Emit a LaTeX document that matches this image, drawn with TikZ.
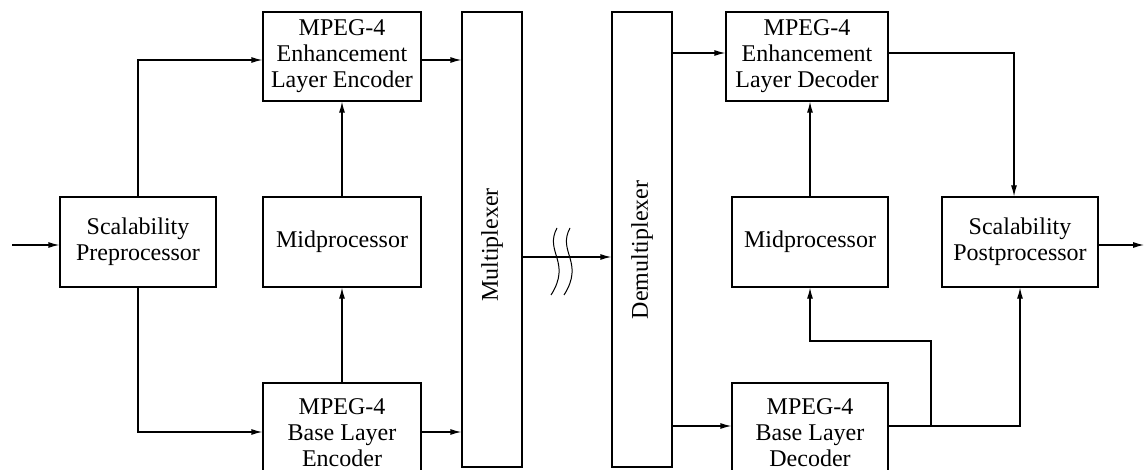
\documentclass[tikz,border=0pt]{standalone}
\usepackage{fontspec}
\setmainfont{Liberation Serif}
\usetikzlibrary{arrows.meta}
\begin{document}
\begin{tikzpicture}[x=0.5pt,y=-0.5pt,
  txt/.style={font=\fontsize{12}{13}\selectfont, align=center},
  blk/.style={txt, draw, line width=0.6pt, inner sep=0pt},
  wire/.style={line width=0.6pt},
  arr/.style={wire, -{Latex[length=5.5pt,width=3pt]}}]
\useasboundingbox (0,0) rectangle (1144,470);
\clip (0,0) rectangle (1144,470);

% encoder side
\node[blk, minimum width=78pt, minimum height=45pt] (pre) at (138,242) {Scalability\\Preprocessor};
\node[blk, minimum width=79pt, minimum height=44.5pt] (encE) at (342,56.5) {MPEG-4\\Enhancement\\Layer Encoder};
\node[blk, minimum width=79pt, minimum height=45pt] (midL) at (342,242) {Midprocessor};
\node[blk, minimum width=79pt, minimum height=50pt] (encB) at (342,433) {MPEG-4\\Base Layer\\Encoder};
\node[blk, minimum width=30pt, minimum height=227.5pt] (mux) at (492,239.5) {};
\node[txt, rotate=90] (muxT) at (492,245) {Multiplexer};

% decoder side
\node[blk, minimum width=30pt, minimum height=227.5pt] (demux) at (642,239.5) {};
\node[txt, rotate=90] (demuxT) at (642,250) {Demultiplexer};
\node[blk, minimum width=81pt, minimum height=44.5pt] (decE) at (807,56.5) {MPEG-4\\Enhancement\\Layer Decoder};
\node[blk, minimum width=78pt, minimum height=45pt] (midR) at (810,242) {Midprocessor};
\node[blk, minimum width=78pt, minimum height=50pt] (decB) at (810,433) {MPEG-4\\Base Layer\\Decoder};
\node[blk, minimum width=78pt, minimum height=45pt] (post) at (1020,242) {Scalability\\Postprocessor};

% signal levels
\coordinate (in) at (12,245);
\coordinate (out) at (1144,245);
\coordinate (yE) at (0,60);
\coordinate (yB) at (0,432);
\coordinate (yT) at (0,257);
\coordinate (yDE) at (0,53);
\coordinate (yDB) at (0,426);
\coordinate (tapE) at (1014,0);
\coordinate (tapB) at (931,0);
\coordinate (yM) at (0,341);

% encoder connections
\draw[arr] (in) -- (in -| pre.west);
\draw[arr] (pre.north) |- (yE -| encE.west);
\draw[arr] (pre.south) |- (yB -| encB.west);
\draw[arr] (encB.north) -- (midL.south);
\draw[arr] (midL.north) -- (encE.south);
\draw[arr] (yE -| encE.east) -- (yE -| mux.west);
\draw[arr] (yB -| encB.east) -- (yB -| mux.west);

% channel with break mark
\draw[arr] (yT -| mux.east) -- (yT -| demux.west);
\draw[wire, line width=0.5pt] (557,228) .. controls (544,252) and (572,262) .. (551,295);
\draw[wire, line width=0.5pt] (570,228) .. controls (557,252) and (585,262) .. (564,295);

% decoder connections
\draw[arr] (yDE -| demux.east) -- (yDE -| decE.west);
\draw[arr] (yDB -| demux.east) -- (yDB -| decB.west);
\draw[arr] (midR.north) -- (midR.north |- decE.south);
\draw[arr] (yDE -| decE.east) -| (tapE |- post.north);
\draw[arr] (yDB -| decB.east) -| (post.south);
\draw[arr] (tapB |- yDB) |- (yM -| midR.south) -- (midR.south);
\draw[arr] (out -| post.east) -- (out);
\end{tikzpicture}
\end{document}
